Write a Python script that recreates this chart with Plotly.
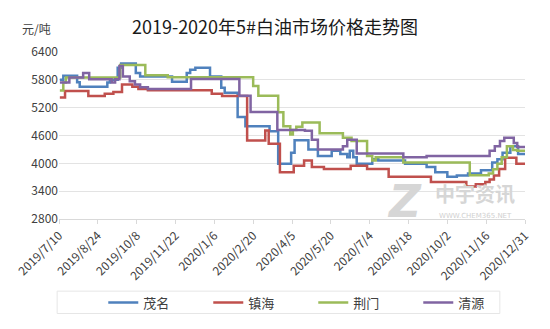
import plotly.graph_objects as go

# Weekly-ish price steps for 5# white oil, 元/吨
maoming_dates = ["2019-07-11", "2019-07-15", "2019-07-31", "2019-08-03", "2019-09-04", "2019-09-07",
                 "2019-09-16", "2019-09-20", "2019-10-07", "2019-10-12", "2019-11-18", "2019-12-05",
                 "2019-12-09", "2019-12-15", "2020-01-01", "2020-01-14", "2020-01-18", "2020-02-02",
                 "2020-02-11", "2020-03-10", "2020-03-20", "2020-04-04", "2020-04-08", "2020-04-24",
                 "2020-05-05", "2020-05-21", "2020-05-31", "2020-06-08", "2020-06-11", "2020-06-15",
                 "2020-06-19", "2020-07-07", "2020-07-14", "2020-08-14", "2020-09-08", "2020-09-18",
                 "2020-10-02", "2020-10-13", "2020-10-26", "2020-11-10", "2020-11-23", "2020-11-29",
                 "2020-12-05", "2020-12-14", "2020-12-23", "2020-12-31"]
maoming_vals = [5800, 5890, 5750, 5650, 5740, 5800,
                6060, 6150, 5950, 5870, 5760, 5950,
                6020, 6060, 5870, 5630, 5520, 5000,
                4800, 4690, 3990, 4230, 4500, 4300,
                4160, 4270, 4200, 4130, 4270, 4130,
                3990, 4090, 4060, 3990, 3920, 3810,
                3710, 3740, 3780, 3850, 4020, 4090,
                4230, 4370, 4200, 4200]

zhenhai_dates = ["2019-07-11", "2019-07-17", "2019-08-13", "2019-09-01", "2019-09-11", "2019-09-21",
                 "2019-10-03", "2019-10-10", "2019-10-21", "2020-01-03", "2020-01-15", "2020-02-13",
                 "2020-03-05", "2020-03-09", "2020-03-22", "2020-04-07", "2020-04-19", "2020-04-28",
                 "2020-05-12", "2020-06-12", "2020-07-01", "2020-07-26", "2020-09-13", "2020-10-24",
                 "2020-11-04", "2020-11-15", "2020-11-20", "2020-11-25", "2020-12-01", "2020-12-08",
                 "2020-12-21", "2020-12-31"]
zhenhai_vals = [5420, 5560, 5450, 5500, 5540, 5700,
                5650, 5600, 5575, 5500, 5450, 4490,
                4710, 4420, 3810, 3950, 4060, 3920,
                3880, 3950, 3880, 3710, 3600, 3500,
                3550, 3600, 3650, 3740, 3880, 4120,
                3990, 3990]

jingmen_dates = ["2019-07-11", "2019-07-15", "2019-07-18", "2019-09-19", "2019-10-18", "2019-11-13",
                 "2020-02-20", "2020-02-26", "2020-03-20", "2020-03-26", "2020-04-03", "2020-04-06",
                 "2020-04-10", "2020-04-17", "2020-05-07", "2020-06-03", "2020-06-13", "2020-07-01",
                 "2020-07-07", "2020-07-11", "2020-08-12", "2020-10-28", "2020-11-19", "2020-11-24",
                 "2020-11-29", "2020-12-04", "2020-12-10", "2020-12-17", "2020-12-22", "2020-12-31"]
jingmen_vals = [5570, 5740, 5850, 6120, 5900, 5855,
                5666, 5456, 5100, 4800, 4620, 4720,
                4790, 4880, 4650, 4550, 4480, 4160,
                4060, 4130, 4020, 3745, 3780, 3870,
                3990, 4130, 4370, 4290, 4270, 4270]

qingyuan_dates = ["2019-07-11", "2019-07-22", "2019-08-07", "2019-08-14", "2019-09-09", "2019-09-13",
                  "2019-09-18", "2019-09-22", "2019-09-30", "2019-10-06", "2019-10-12", "2019-10-21",
                  "2019-12-10", "2020-02-04", "2020-02-17", "2020-03-19", "2020-04-20", "2020-04-28",
                  "2020-05-05", "2020-06-03", "2020-06-08", "2020-06-19", "2020-08-12", "2020-09-08",
                  "2020-11-20", "2020-11-26", "2020-12-02", "2020-12-07", "2020-12-18", "2020-12-22",
                  "2020-12-31"]
qingyuan_vals = [5740, 5850, 5950, 5810, 5740, 5810,
                 6100, 5870, 5770, 5700, 5640, 5600,
                 5820, 5456, 5107, 4720, 4700, 4510,
                 4300, 4370, 4510, 4210, 4130, 4160,
                 4270, 4370, 4480, 4550, 4440, 4350,
                 4350]

tick_dates = ["2019-07-10", "2019-08-24", "2019-10-08", "2019-11-22", "2020-01-06", "2020-02-20",
              "2020-04-05", "2020-05-20", "2020-07-04", "2020-08-18", "2020-10-02", "2020-11-16",
              "2020-12-31"]
tick_labels = ["2019/7/10", "2019/8/24", "2019/10/8", "2019/11/22", "2020/1/6", "2020/2/20",
               "2020/4/5", "2020/5/20", "2020/7/4", "2020/8/18", "2020/10/2", "2020/11/16",
               "2020/12/31"]

series = [
    ("茂名", maoming_dates, maoming_vals, "#4F81BD"),
    ("镇海", zhenhai_dates, zhenhai_vals, "#C0504D"),
    ("荆门", jingmen_dates, jingmen_vals, "#9BBB59"),
    ("清源", qingyuan_dates, qingyuan_vals, "#8064A2"),
]

FONT = "Noto Sans CJK SC, Open Sans, sans-serif"

fig = go.Figure()
for name, xs, ys, color in series:
    fig.add_trace(go.Scatter(x=xs, y=ys, name=name, mode="lines",
                             line=dict(color=color, width=2.5, shape="hv")))

fig.update_layout(
    width=550, height=329,
    margin=dict(l=59, r=25, t=52, b=106),
    paper_bgcolor="white", plot_bgcolor="white",
    font=dict(family=FONT, color="#404040", size=12),
    showlegend=True,
    title=dict(text="2019-2020年5#白油市场价格走势图", x=0.5, xanchor="center",
               y=0.915, yanchor="middle", font=dict(size=18, color="#1a1a1a", family=FONT)),
    legend=dict(orientation="h", x=0.095, xanchor="left", y=-0.5, yanchor="middle",
                entrywidth=60, entrywidthmode="pixels", itemwidth=30,
                font=dict(size=13, color="#404040", family=FONT),
                bgcolor="rgba(0,0,0,0)"),
    xaxis=dict(type="date", range=["2019-07-10", "2020-12-31"],
               tickmode="array", tickvals=tick_dates, ticktext=tick_labels,
               tickangle=-45, tickfont=dict(size=12, color="#404040"),
               showgrid=False, showline=True, linecolor="#D9D9D9", linewidth=1,
               ticks="outside", ticklen=4, tickcolor="#D9D9D9", zeroline=False),
    yaxis=dict(range=[2800, 6400], tickvals=[2800, 3400, 4000, 4600, 5200, 5800, 6400],
               tickfont=dict(size=12, color="#404040"),
               showgrid=True, gridcolor="#E3E3E3", gridwidth=1,
               showline=False, zeroline=False, ticks=""),
)

# legend frame
fig.add_shape(type="rect", xref="paper", yref="paper",
              x0=-0.004, x1=0.946, y0=-0.566, y1=-0.432,
              line=dict(color="#E6E6E6", width=1), fillcolor="rgba(0,0,0,0)")

# unit label
fig.add_annotation(text="元/吨", xref="paper", yref="paper", x=-0.049, y=1.14,
                   xanchor="center", yanchor="middle", showarrow=False,
                   font=dict(size=12, color="#404040", family=FONT))

# watermark
fig.add_annotation(text="<b><i>Z</i></b>", xref="paper", yref="paper", x=0.742, y=0.105,
                   xanchor="center", yanchor="middle", showarrow=False,
                   font=dict(size=44, color="#D6D6D6", family="DejaVu Sans"))
fig.add_annotation(text="<b>中宇资讯</b>", xref="paper", yref="paper", x=0.893, y=0.155,
                   xanchor="center", yanchor="middle", showarrow=False,
                   font=dict(size=20, color="#D6D6D6", family=FONT))
fig.add_annotation(text="WWW.CHEM365.NET", xref="paper", yref="paper", x=0.893, y=0.015,
                   xanchor="center", yanchor="middle", showarrow=False,
                   font=dict(size=7, color="#D0D0D0", family="DejaVu Sans"))

fig.write_html("out.html")
